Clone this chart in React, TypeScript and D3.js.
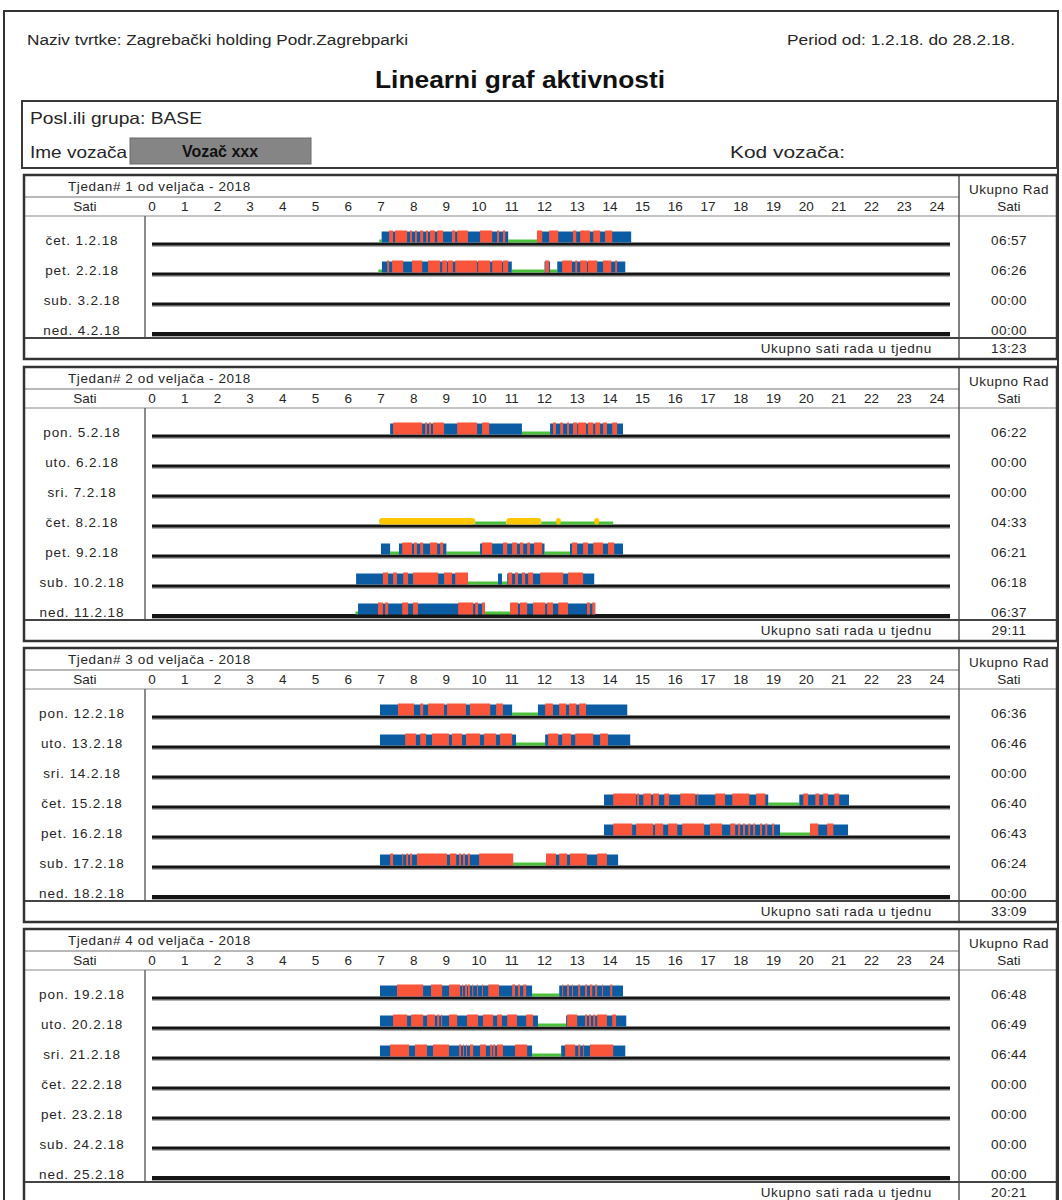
import { useEffect, useRef } from 'react'
import * as d3 from 'd3'

type Span = [number, number]

const companyText = 'Naziv tvrtke: Zagrebački holding Podr.Zagrebparki'
const periodText = 'Period od: 1.2.18. do 28.2.18.'
const titleText = 'Linearni graf aktivnosti'

const weekTitles = [
  'Tjedan# 1 od veljača - 2018',
  'Tjedan# 2 od veljača - 2018',
  'Tjedan# 3 od veljača - 2018',
  'Tjedan# 4 od veljača - 2018',
]

const weekDays = [
  ['čet. 1.2.18', 'pet. 2.2.18', 'sub. 3.2.18', 'ned. 4.2.18'],
  ['pon. 5.2.18', 'uto. 6.2.18', 'sri. 7.2.18', 'čet. 8.2.18', 'pet. 9.2.18', 'sub. 10.2.18', 'ned. 11.2.18'],
  ['pon. 12.2.18', 'uto. 13.2.18', 'sri. 14.2.18', 'čet. 15.2.18', 'pet. 16.2.18', 'sub. 17.2.18', 'ned. 18.2.18'],
  ['pon. 19.2.18', 'uto. 20.2.18', 'sri. 21.2.18', 'čet. 22.2.18', 'pet. 23.2.18', 'sub. 24.2.18', 'ned. 25.2.18'],
]

const dayTotals = [
  ['06:57', '06:26', '00:00', '00:00'],
  ['06:22', '00:00', '00:00', '04:33', '06:21', '06:18', '06:37'],
  ['06:36', '06:46', '00:00', '06:40', '06:43', '06:24', '00:00'],
  ['06:48', '06:49', '06:44', '00:00', '00:00', '00:00', '00:00'],
]

const weekTotals = ['13:23', '29:11', '33:09', '20:21']

const hours = d3.range(0, 25)

// ostali rad (plavo)
const work: Record<string, Span[]> = {
  'čet. 1.2.18': [[7.02, 10.89], [11.77, 14.65]],
  'pet. 2.2.18': [[7.03, 11.0], [12.0, 12.17], [12.39, 14.47]],
  'pon. 5.2.18': [[7.28, 11.31], [12.17, 14.4]],
  'pet. 9.2.18': [[7.0, 7.28], [7.55, 9.0], [10.03, 12.0], [12.78, 14.4]],
  'sub. 10.2.18': [[6.24, 9.66], [10.58, 10.7], [10.86, 13.52]],
  'ned. 11.2.18': [[6.3, 10.18], [10.95, 13.55]],
  'pon. 12.2.18': [[6.97, 11.01], [11.8, 14.53]],
  'uto. 13.2.18': [[6.97, 11.13], [12.02, 14.62]],
  'čet. 15.2.18': [[13.82, 18.84], [19.79, 21.31]],
  'pet. 16.2.18': [[13.82, 19.2], [20.12, 21.28]],
  'sub. 17.2.18': [[6.97, 11.04], [12.05, 14.25]],
  'pon. 19.2.18': [[6.97, 11.62], [12.45, 14.4]],
  'uto. 20.2.18': [[6.97, 11.8], [12.66, 14.5]],
  'sri. 21.2.18': [[6.97, 11.62], [12.51, 14.47]],
}

// vožnja (crveno)
const drive: Record<string, Span[]> = {
  'čet. 1.2.18': [[7.25, 7.37], [7.43, 7.8], [7.89, 7.95], [8.04, 8.1], [8.2, 8.29], [8.38, 8.44], [8.5, 8.65], [8.72, 8.9], [9.17, 9.27], [9.33, 9.66], [10.03, 10.4], [10.55, 10.61], [10.73, 10.8], [11.77, 11.93], [12.14, 12.42], [12.87, 12.97], [13.09, 13.39], [13.49, 13.7], [13.85, 14.07]],
  'pet. 2.2.18': [[7.19, 7.25], [7.34, 7.68], [7.95, 8.26], [8.44, 8.81], [8.87, 9.02], [9.05, 9.2], [9.27, 9.94], [9.97, 10.34], [10.4, 10.7], [10.73, 10.89], [12.02, 12.14], [12.54, 12.84], [12.94, 13.0], [13.09, 13.3], [13.33, 13.61], [13.79, 14.04], [14.16, 14.22]],
  'pon. 5.2.18': [[7.37, 8.26], [8.35, 8.41], [8.47, 8.53], [8.59, 8.93], [9.33, 9.94], [10.09, 10.31], [12.26, 12.35], [12.48, 12.57], [12.69, 12.75], [12.87, 13.0], [13.03, 13.27], [13.33, 13.49], [13.55, 13.7], [13.79, 13.91], [14.07, 14.22]],
  'pet. 9.2.18': [[7.65, 7.95], [8.01, 8.1], [8.2, 8.29], [8.5, 8.72], [8.81, 8.9], [10.09, 10.4], [10.73, 10.86], [11.01, 11.16], [11.25, 11.35], [11.47, 11.56], [11.68, 11.93], [12.84, 13.0], [13.18, 13.33], [13.49, 13.79], [13.94, 14.13]],
  'sub. 10.2.18': [[7.06, 7.22], [7.37, 7.49], [7.68, 7.83], [7.98, 8.75], [8.93, 9.17], [9.27, 9.66], [10.89, 11.01], [11.1, 11.19], [11.31, 11.41], [11.5, 11.65], [11.87, 12.57], [12.72, 13.18]],
  'ned. 11.2.18': [[6.91, 7.06], [7.13, 7.22], [7.65, 7.83], [7.98, 8.13], [9.36, 9.82], [9.88, 9.97], [10.09, 10.18], [10.95, 11.19], [11.25, 11.47], [11.65, 12.02], [12.08, 12.26], [12.42, 12.72], [13.3, 13.39], [13.46, 13.55]],
  'pon. 12.2.18': [[7.52, 8.01], [8.2, 8.29], [8.44, 8.93], [9.02, 9.6], [9.72, 10.34], [10.52, 10.73], [12.02, 12.26], [12.45, 12.66], [12.75, 12.97], [13.06, 13.27]],
  'uto. 13.2.18': [[7.74, 8.07], [8.2, 8.38], [8.56, 9.08], [9.17, 9.48], [9.6, 10.03], [10.15, 10.52], [10.64, 11.01], [12.11, 12.42], [12.54, 12.81], [12.94, 13.49], [13.7, 13.94]],
  'čet. 15.2.18': [[14.1, 14.8], [14.83, 14.89], [15.02, 15.26], [15.32, 15.5], [15.66, 15.81], [16.15, 16.61], [16.67, 16.7], [17.22, 17.52], [17.74, 18.26], [18.47, 18.75], [19.91, 20.06], [20.28, 20.4], [20.52, 20.67], [20.86, 21.01]],
  'pet. 16.2.18': [[14.1, 14.68], [14.8, 15.32], [15.38, 15.63], [15.78, 16.06], [16.21, 16.88], [17.06, 17.43], [17.68, 17.83], [17.92, 17.98], [18.07, 18.13], [18.23, 18.29], [18.38, 18.44], [18.59, 18.65], [18.75, 18.81], [18.96, 19.02], [20.12, 20.37], [20.64, 20.83]],
  'sub. 17.2.18': [[7.28, 7.37], [7.65, 7.68], [7.77, 7.83], [7.89, 7.95], [8.1, 9.02], [9.11, 9.3], [9.39, 9.45], [9.51, 9.57], [9.66, 9.72], [10.0, 11.04], [12.05, 12.35], [12.45, 12.69], [12.78, 13.3], [13.61, 13.91]],
  'pon. 19.2.18': [[7.49, 8.29], [8.53, 8.87], [9.08, 9.42], [9.48, 9.51], [9.57, 9.63], [9.66, 9.72], [9.79, 9.82], [9.94, 9.97], [10.09, 10.12], [10.28, 10.61], [11.01, 11.1], [11.19, 11.25], [11.35, 11.44], [12.54, 12.57], [12.69, 12.75], [12.84, 12.87], [13.03, 13.09], [13.24, 13.3], [13.39, 13.46], [13.55, 13.61], [13.76, 13.79], [14.01, 14.07]],
  'uto. 20.2.18': [[7.37, 7.8], [7.92, 8.29], [8.41, 8.65], [8.72, 8.78], [8.84, 8.87], [9.08, 9.33], [9.63, 9.97], [10.12, 10.43], [10.55, 10.7], [10.86, 11.16], [11.44, 11.65], [12.69, 13.0], [13.24, 13.3], [13.36, 13.42], [13.49, 13.55], [13.61, 13.91], [14.07, 14.19]],
  'sri. 21.2.18': [[7.28, 7.86], [8.04, 8.41], [8.59, 9.08], [9.39, 9.45], [9.51, 9.54], [9.6, 9.63], [9.72, 9.82], [10.03, 10.21], [10.34, 10.4], [10.43, 10.49], [10.55, 10.73], [11.1, 11.47], [12.63, 12.94], [13.03, 13.09], [13.18, 13.21], [13.39, 14.1]],
}

// odmor (zeleno)
const rest: Record<string, Span[]> = {
  'čet. 1.2.18': [[6.95, 7.02], [10.89, 11.77]],
  'pet. 2.2.18': [[6.92, 7.03], [11.0, 12.0], [12.17, 12.39]],
  'pon. 5.2.18': [[11.31, 12.17]],
  'čet. 8.2.18': [[9.88, 10.83], [11.9, 14.1]],
  'pet. 9.2.18': [[7.28, 7.55], [9.0, 10.03], [12.0, 12.78]],
  'sub. 10.2.18': [[9.66, 10.58], [10.7, 10.86]],
  'ned. 11.2.18': [[6.22, 6.3], [10.18, 10.95]],
  'pon. 12.2.18': [[11.01, 11.8]],
  'uto. 13.2.18': [[11.13, 12.02]],
  'čet. 15.2.18': [[18.84, 19.79]],
  'pet. 16.2.18': [[19.2, 20.12]],
  'sub. 17.2.18': [[11.04, 12.05]],
  'pon. 19.2.18': [[11.62, 12.45]],
  'uto. 20.2.18': [[11.8, 12.66]],
  'sri. 21.2.18': [[11.62, 12.51]],
}

// raspoloživost (žuto)
const avail: Record<string, Span[]> = {
  'čet. 8.2.18': [[6.94, 9.88], [10.83, 11.9], [12.35, 12.5], [13.52, 13.67]],
}

const weekTops = [175, 367, 648, 929]

const BLUE = '#0b5ca2'
const RED = '#f9553a'
const GREEN = '#4cc23c'
const YELLOW = '#fcc700'
const INK = '#262626'
const FONT = '"Liberation Sans", Arial, sans-serif'

export default function App() {
  const svgRef = useRef<SVGSVGElement>(null)

  useEffect(() => {
    if (!svgRef.current) return
    const svg = d3.select(svgRef.current)
    svg.selectAll('*').remove()

    const x = d3.scaleLinear().domain([0, 24]).range([152, 937])
    const rowH = 30
    const left = 24
    const right = 1057
    const labelCol = 145
    const sumCol = 959
    const sumX = 1009

    svg.append('rect').attr('width', 1062).attr('height', 1200).attr('fill', '#fff')

    // page frame
    svg.append('rect')
      .attr('x', 4).attr('y', 11).attr('width', 1054).attr('height', 1200)
      .attr('fill', 'none').attr('stroke', '#333').attr('stroke-width', 2)

    const txt = (sel: d3.Selection<any, any, any, any>, s: string, px: number, py: number, size: number) =>
      sel.append('text')
        .attr('x', px).attr('y', py)
        .attr('font-family', FONT).attr('font-size', size)
        .attr('fill', INK)
        .text(s)

    txt(svg, companyText, 27, 45, 15.5).attr('textLength', 381).attr('lengthAdjust', 'spacingAndGlyphs')
    txt(svg, periodText, 787, 45, 15.5).attr('textLength', 228).attr('lengthAdjust', 'spacingAndGlyphs')
    txt(svg, titleText, 375, 88, 23.5)
      .attr('font-weight', 'bold').attr('fill', '#111')
      .attr('textLength', 290).attr('lengthAdjust', 'spacingAndGlyphs')

    // info box
    svg.append('rect')
      .attr('x', 22).attr('y', 101).attr('width', 1035).attr('height', 67)
      .attr('fill', 'none').attr('stroke', '#3a3a3a').attr('stroke-width', 2)
    txt(svg, 'Posl.ili grupa:  BASE', 30, 124, 16.5).attr('textLength', 172).attr('lengthAdjust', 'spacingAndGlyphs')
    txt(svg, 'Ime vozača', 30, 158, 16.5).attr('textLength', 97).attr('lengthAdjust', 'spacingAndGlyphs')
    svg.append('rect')
      .attr('x', 130).attr('y', 138).attr('width', 181).attr('height', 26)
      .attr('fill', '#858585').attr('stroke', '#6a6a6a').attr('stroke-width', 1)
    txt(svg, 'Vozač xxx', 220, 157, 16)
      .attr('text-anchor', 'middle').attr('font-weight', 'bold').attr('fill', '#111')
    txt(svg, 'Kod vozača:', 730, 158, 16.5).attr('textLength', 115).attr('lengthAdjust', 'spacingAndGlyphs')

    weekTops.forEach((T, wi) => {
      const days = weekDays[wi]
      const n = days.length
      const firstLine = T + 69
      const footerY = firstLine + (n - 1) * rowH + 4
      const bottom = footerY + 21
      const g = svg.append('g')

      const hline = (y: number, x1: number, x2: number, color: string, w: number) =>
        g.append('line').attr('x1', x1).attr('x2', x2).attr('y1', y).attr('y2', y)
          .attr('stroke', color).attr('stroke-width', w)
      const vline = (xx: number, y1: number, y2: number, color: string, w: number) =>
        g.append('line').attr('x1', xx).attr('x2', xx).attr('y1', y1).attr('y2', y2)
          .attr('stroke', color).attr('stroke-width', w)

      hline(T + 22, left, sumCol, '#a0a0a0', 1.5)
      hline(T + 41, left, right, '#b0b0b0', 1.5)
      vline(sumCol, T, bottom, '#555', 1.5)
      vline(labelCol, T + 41, footerY, '#666', 1.5)

      txt(g, weekTitles[wi], 68, T + 16, 13.5).attr('letter-spacing', 0.6)
      txt(g, 'Sati', 85, T + 36, 13.5).attr('text-anchor', 'middle')
      txt(g, 'Ukupno Rad', sumX, T + 19, 13.5).attr('text-anchor', 'middle').attr('letter-spacing', 0.5)
      txt(g, 'Sati', sumX, T + 36, 13.5).attr('text-anchor', 'middle')

      g.selectAll('text.tick')
        .data(hours)
        .join('text')
        .attr('class', 'tick')
        .attr('x', d => x(d))
        .attr('y', T + 36)
        .attr('text-anchor', 'middle')
        .attr('font-family', FONT).attr('font-size', 13.5)
        .attr('fill', INK)
        .text(d => String(d))

      days.forEach((day, i) => {
        const ly = firstLine + i * rowH
        const last = i === n - 1

        txt(g, day, 82, ly + 1, 13.5).attr('text-anchor', 'middle').attr('letter-spacing', 0.9)
        txt(g, dayTotals[wi][i], sumX, ly + 1, 13.5).attr('text-anchor', 'middle').attr('letter-spacing', 0.4)

        // base line
        hline(ly + 2, x(0), x(24) + 13, '#9a9a9a', 1.5)
        hline(ly, x(0), x(24) + 13, '#151515', last ? 4 : 3)

        ;(rest[day] || []).forEach(([a, b]) => {
          g.append('rect').attr('x', x(a)).attr('width', x(b) - x(a))
            .attr('y', ly - 4.5).attr('height', 3).attr('fill', GREEN)
        })
        ;(avail[day] || []).forEach(([a, b]) => {
          g.append('rect').attr('x', x(a)).attr('width', x(b) - x(a))
            .attr('y', ly - 8).attr('height', 6.5).attr('rx', 3).attr('fill', YELLOW)
        })
        ;(work[day] || []).forEach(([a, b]) => {
          g.append('rect').attr('x', x(a)).attr('width', x(b) - x(a))
            .attr('y', ly - 12.5).attr('height', 11).attr('fill', BLUE)
        })
        ;(drive[day] || []).forEach(([a, b]) => {
          g.append('rect').attr('x', x(a)).attr('width', x(b) - x(a))
            .attr('y', ly - 13.5).attr('height', 12).attr('fill', RED)
        })
      })

      hline(footerY, left, right, '#444', 2)
      txt(g, 'Ukupno sati rada u tjednu', 932, footerY + 15, 13.5)
        .attr('text-anchor', 'end').attr('letter-spacing', 0.7)
      txt(g, weekTotals[wi], sumX, footerY + 15, 13.5).attr('text-anchor', 'middle').attr('letter-spacing', 0.4)

      g.append('rect')
        .attr('x', left).attr('y', T).attr('width', right - left).attr('height', bottom - T)
        .attr('fill', 'none').attr('stroke', '#333').attr('stroke-width', 2.5)
    })
  }, [])

  return (
    <svg
      ref={svgRef}
      width={1062}
      height={1200}
      style={{ position: 'absolute', left: 0, top: 0, display: 'block' }}
    />
  )
}
